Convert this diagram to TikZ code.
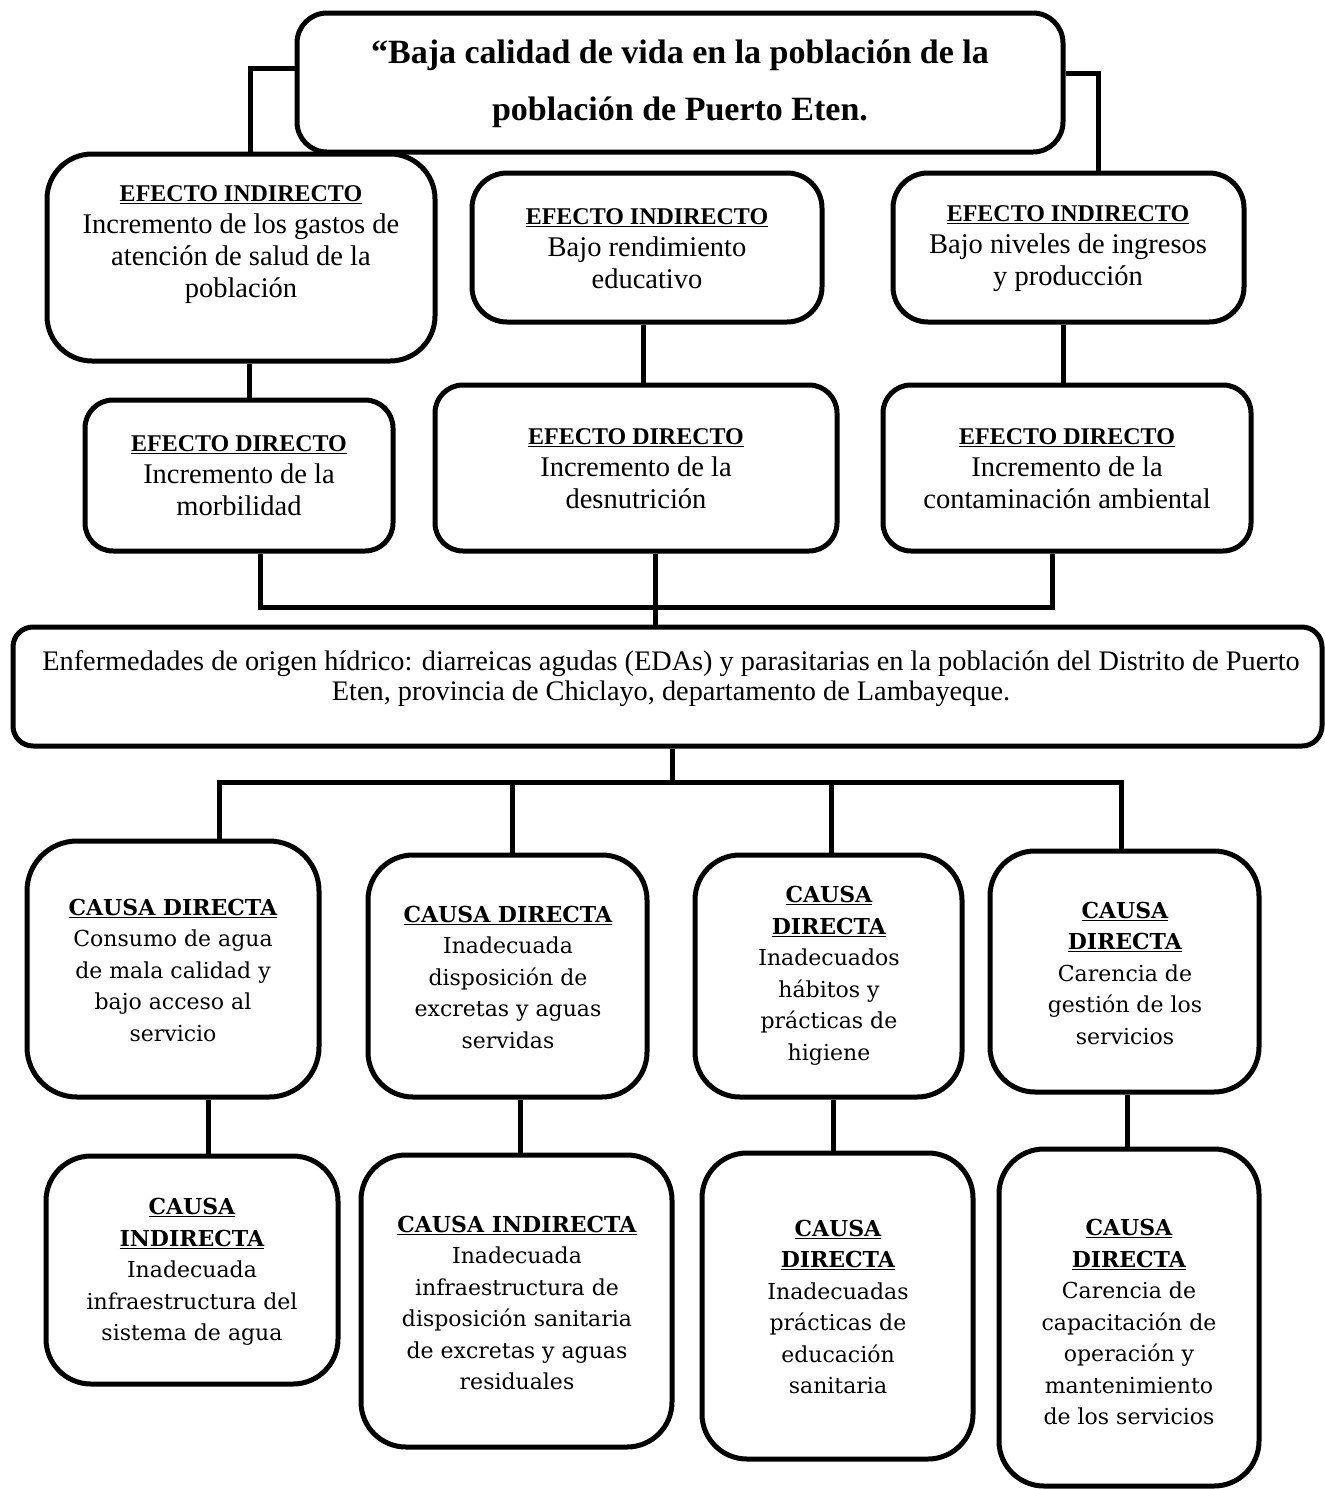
\documentclass[tikz,border=0pt]{standalone}
\usepackage{fontspec}
\setmainfont{Liberation Serif}
\newfontfamily\causefont{DejaVu Serif}
\newcommand\mkbox[6]{\node[boxshape, rounded corners=#6, minimum width={(#4)-(#2)}, minimum height={(#5)-(#3)}] (#1) at ({((#2)+(#4))/2},{((#3)+(#5))/2}) {};}
\newcommand\hd[1]{\underline{\textbf{#1}}}
\newcommand\thd[1]{{\fontsize{24}{32}\selectfont\underline{\textbf{#1}}}}
\tikzset{
  boxshape/.style={draw, line width=5pt, inner sep=0pt, fill=white},
  conn/.style={line width=5pt},
  txt/.style={align=center, inner sep=0pt, font=\fontsize{28.5}{32}\selectfont},
  ctxt/.style={align=center, inner sep=0pt, font=\causefont\fontsize{22}{31.5}\selectfont},
}
\begin{document}
\begin{tikzpicture}[x=1pt,y=-1pt]
\useasboundingbox (0,0) rectangle (1325,1489);
% boxes
\mkbox{title}{297}{13}{1063}{152}{30pt}
\mkbox{ei1}{47}{154}{435}{361}{45pt}
\mkbox{ei2}{472}{173}{822}{322}{35pt}
\mkbox{ei3}{893}{173}{1244}{322}{35pt}
\mkbox{ed1}{85}{400}{393}{551}{28pt}
\mkbox{ed2}{435}{385}{837}{551}{28pt}
\mkbox{ed3}{883}{385}{1251}{551}{28pt}
\mkbox{main}{13}{627}{1322}{746}{20pt}
\mkbox{cd1}{27}{841}{319}{1097}{50pt}
\mkbox{cd2}{368}{855}{647}{1097}{45pt}
\mkbox{cd3}{695}{855}{962}{1097}{45pt}
\mkbox{cd4}{990}{851}{1259}{1092}{45pt}
\mkbox{ci1}{46}{1156}{338}{1384}{45pt}
\mkbox{ci2}{361}{1155}{672}{1447}{45pt}
\mkbox{ci3}{702}{1153}{973}{1459}{45pt}
\mkbox{ci4}{999}{1149}{1259}{1486}{45pt}
% texts
\node[txt, font=\bfseries\fontsize{34}{57}\selectfont] (titlet) at (680,84) {“Baja calidad de vida en la población de la\\población de Puerto Eten.};
\node[txt] (ei1t) at (241,245) {\thd{EFECTO INDIRECTO}\\Incremento de los gastos de\\atención de salud de la\\población};
\node[txt] (ei2t) at (647,249) {\thd{EFECTO INDIRECTO}\\Bajo rendimiento\\educativo};
\node[txt] (ei3t) at (1068,249) {\thd{EFECTO INDIRECTO}\\Bajo niveles de ingresos\\y producción};
\node[txt] (ed1t) at (239,476) {\thd{EFECTO DIRECTO}\\Incremento de la\\morbilidad};
\node[txt] (ed2t) at (636,469) {\thd{EFECTO DIRECTO}\\Incremento de la\\desnutrición};
\node[txt] (ed3t) at (1067,469) {\thd{EFECTO DIRECTO}\\Incremento de la\\contaminación ambiental};
\node[txt, font=\fontsize{28.3}{30}\selectfont] (maint) at (671,679) {Enfermedades de origen hídrico: diarreicas agudas (EDAs) y parasitarias en la población del Distrito de Puerto\\Eten, provincia de Chiclayo, departamento de Lambayeque.};
\node[ctxt] (cd1t) at (173,970) {\hd{CAUSA DIRECTA}\\Consumo de agua\\de mala calidad y\\bajo acceso al\\servicio};
\node[ctxt] (cd2t) at (508,977) {\hd{CAUSA DIRECTA}\\Inadecuada\\disposición de\\excretas y aguas\\servidas};
\node[ctxt] (cd3t) at (829,976) {\hd{CAUSA}\\\hd{DIRECTA}\\Inadecuados\\hábitos y\\prácticas de\\higiene};
\node[ctxt] (cd4t) at (1125,973) {\hd{CAUSA}\\\hd{DIRECTA}\\Carencia de\\gestión de los\\servicios};
\node[ctxt] (ci1t) at (192,1272) {\hd{CAUSA}\\\hd{INDIRECTA}\\Inadecuada\\infraestructura del\\sistema de agua};
\node[ctxt] (ci2t) at (517,1303) {\hd{CAUSA INDIRECTA}\\Inadecuada\\infraestructura de\\disposición sanitaria\\de excretas y aguas\\residuales};
\node[ctxt] (ci3t) at (838,1307) {\hd{CAUSA}\\\hd{DIRECTA}\\Inadecuadas\\prácticas de\\educación\\sanitaria};
\node[ctxt] (ci4t) at (1129,1322) {\hd{CAUSA}\\\hd{DIRECTA}\\Carencia de\\capacitación de\\operación y\\mantenimiento\\de los servicios};
% junction coordinates
\coordinate (tl) at (250,68);
\coordinate (tr) at (1098,73);
\coordinate (ja) at (260,607);
\coordinate (jb) at (1052,607);
\coordinate (jc) at (655,607);
\coordinate (ma) at (672,782);
\coordinate (b1) at (219,782);
\coordinate (b2) at (512,782);
\coordinate (b3) at (831,782);
\coordinate (b4) at (1121,782);
\coordinate (v1) at (249,0);
\coordinate (v2) at (643,0);
\coordinate (v3) at (1063,0);
\coordinate (w1) at (208,0);
\coordinate (w2) at (520,0);
\coordinate (w3) at (833,0);
\coordinate (w4) at (1127,0);
% connectors
\draw[conn] (title.west |- tl) -- (tl) -- (tl |- ei1.north);
\draw[conn] (title.east |- tr) -- (tr) -- (tr |- ei3.north);
\draw[conn] (ei1.south -| v1) -- (ed1.north -| v1);
\draw[conn] (ei2.south -| v2) -- (ed2.north -| v2);
\draw[conn] (ei3.south -| v3) -- (ed3.north -| v3);
\draw[conn] (ed1.south -| ja) -- (ja) -- (jb) -- (ed3.south -| jb);
\draw[conn] (ed2.south -| jc) -- (main.north -| jc);
\draw[conn] (main.south -| ma) -- (ma);
\draw[conn] (b1 |- cd1.north) -- (b1) -- (b4) -- (b4 |- cd4.north);
\draw[conn] (b2) -- (b2 |- cd2.north);
\draw[conn] (b3) -- (b3 |- cd3.north);
\draw[conn] (cd1.south -| w1) -- (ci1.north -| w1);
\draw[conn] (cd2.south -| w2) -- (ci2.north -| w2);
\draw[conn] (cd3.south -| w3) -- (ci3.north -| w3);
\draw[conn] (cd4.south -| w4) -- (ci4.north -| w4);
\end{tikzpicture}
\end{document}
